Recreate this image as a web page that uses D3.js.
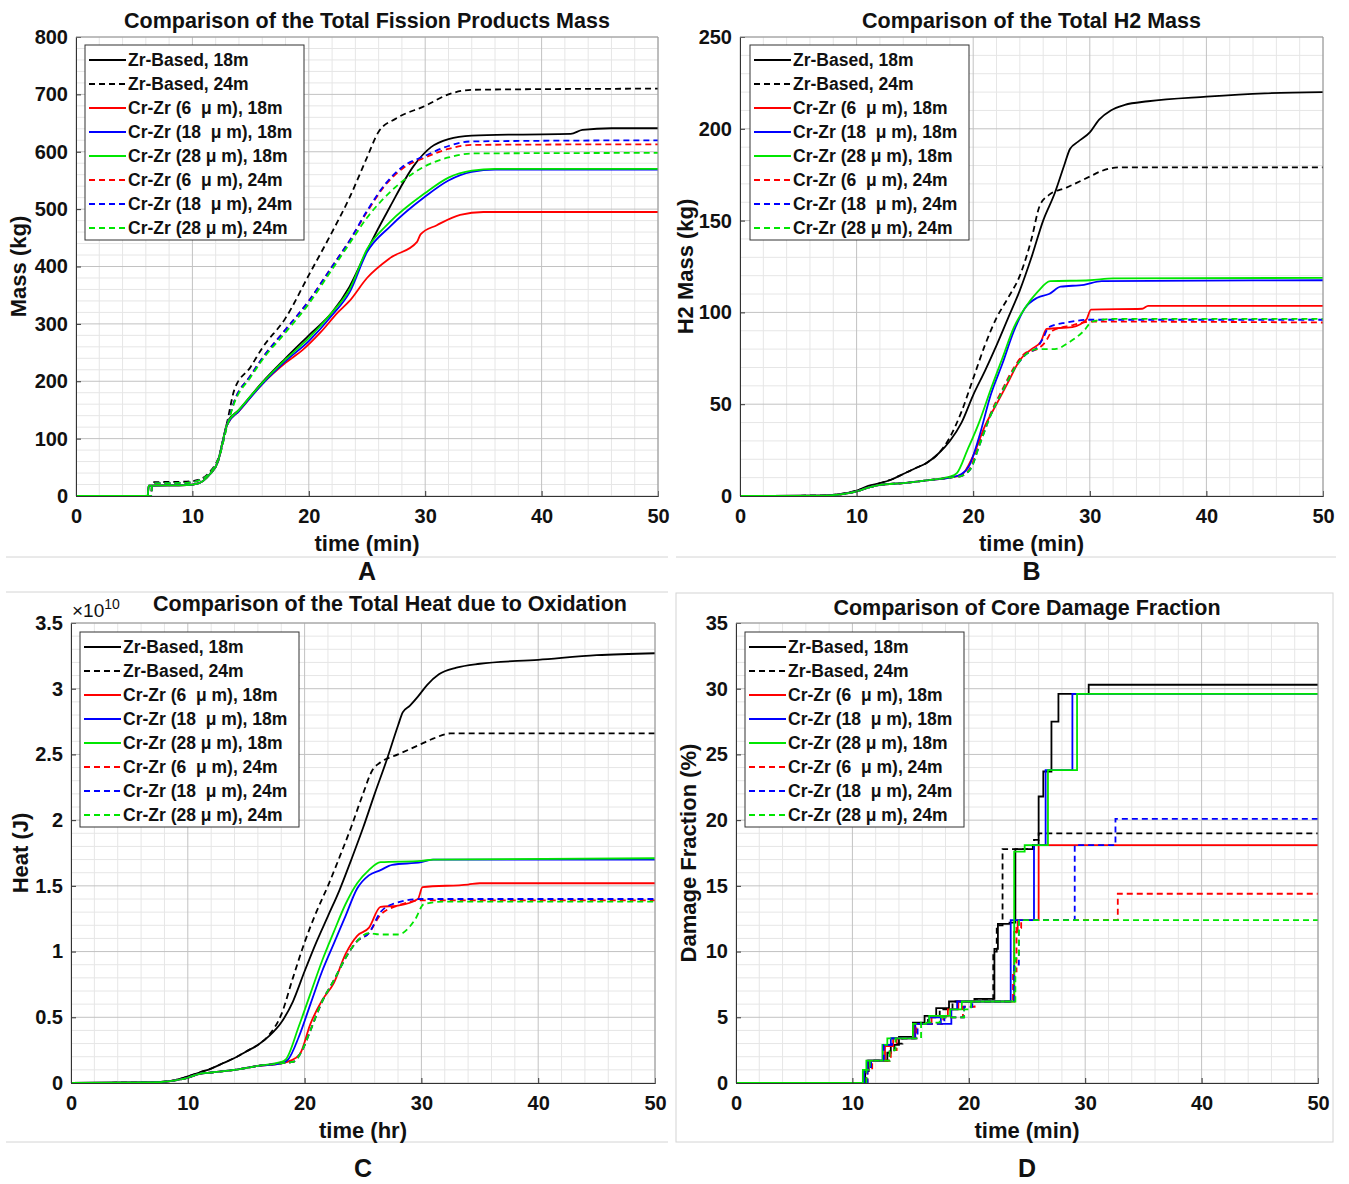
<!DOCTYPE html>
<html>
<head>
<meta charset="utf-8">
<script src="https://cdn.jsdelivr.net/npm/d3@7"></script>
<style>
  body { margin: 0; background: #fff; }
  text { font-family: "Liberation Sans", Arial, sans-serif; font-weight: bold; fill: #111; }
</style>
</head>
<body>
<div id="chart"></div>
<script>
// --- taille de la page ---
const width = 1349;
const height = 1184;

// --- légende commune aux 4 graphes ---
const seriesLabels = [
  "Zr-Based, 18m", "Zr-Based, 24m",
  "Cr-Zr (6  \u03bc m), 18m", "Cr-Zr (18  \u03bc m), 18m", "Cr-Zr (28 \u03bc m), 18m",
  "Cr-Zr (6  \u03bc m), 24m", "Cr-Zr (18  \u03bc m), 24m", "Cr-Zr (28 \u03bc m), 24m"
];
const seriesColors = ["#000000", "#000000", "#ff0000", "#0000ff", "#00e600", "#ff0000", "#0000ff", "#00e600"];
const seriesDashed = [false, true, false, false, false, true, true, true];

const xTicks = [0, 10, 20, 30, 40, 50];

// --- A : masse des produits de fission (kg) ---
const fpZr18 = [[0,0],[6.15,0],[6.25,18],[9.5,19],[10.5,22],[11.5,38],[12.2,60],[12.6,95],[13.0,128],[14,150],[16,198],[18,240],[20,280],[22,320],[23.5,365],[25,428],[27,505],[29,575],[30.5,608],[32,622],[34,628],[38,630],[42.5,631],[43.5,638],[46,641],[50,641]];
const fpZr24 = [[0,0],[6.45,0],[6.55,24],[9.5,25],[10.5,28],[11.5,42],[12.3,70],[13.0,130],[13.6,185],[15,225],[16,258],[18,310],[20,385],[22,460],[23.5,520],[25,590],[26,635],[27.5,658],[30,680],[32,700],[34,708],[50,710]];
const fpCr6_18 = [[0,0],[6.15,0],[6.25,18],[9.5,19],[10.5,22],[11.5,38],[12.2,60],[12.6,95],[13.0,125],[14,148],[16,195],[18,232],[19.5,255],[21,285],[22.5,320],[23.5,340],[25,380],[27,415],[29.3,443],[29.6,456],[31,472],[33,490],[35,495],[50,495]];
const fpCr18_18 = [[0,0],[6.15,0],[6.25,18],[9.5,19],[10.5,22],[11.5,38],[12.2,60],[12.6,95],[13.0,125],[14,148],[16,195],[18,235],[20,270],[22,315],[23.5,355],[25,425],[27,470],[30,522],[32,550],[34,565],[36,569],[50,569]];
const fpCr28_18 = [[0,0],[6.15,0],[6.25,18],[9.5,19],[10.5,22],[11.5,38],[12.2,60],[12.6,95],[13.0,126],[14,150],[16,197],[18,238],[20,275],[22,320],[23.5,360],[25,430],[27,478],[30,528],[32,555],[34,567],[36,570],[50,570]];
const fpCr6_24 = [[0,0],[6.45,0],[6.55,22],[9.5,23],[10.5,27],[11.5,40],[12.3,68],[13.0,125],[13.6,165],[15,210],[16,240],[18,290],[20,340],[22,400],[23.5,445],[25,495],[26.5,540],[28,570],[30,590],[32,605],[34,612],[50,613]];
const fpCr18_24 = [[0,0],[6.45,0],[6.55,22],[9.5,23],[10.5,27],[11.5,40],[12.3,68],[13.0,125],[13.6,165],[15,210],[16,240],[18,290],[20,340],[22,400],[23.5,445],[25,497],[26.5,542],[28,573],[30,593],[32,610],[34,618],[50,620]];
const fpCr28_24 = [[0,0],[6.45,0],[6.55,22],[9.5,23],[10.5,27],[11.5,40],[12.3,68],[13.0,123],[13.6,162],[15,207],[16,237],[18,285],[20,335],[22,395],[23.5,440],[25,485],[26.5,520],[28,548],[30,575],[32,590],[34,597],[50,598]];

// --- B : masse de H2 (kg) ---
const h2Zr18 = [[0,0],[7,0.2],[8.5,1],[10,3],[11,5.5],[12,7],[13,9],[14,12],[15,15],[16,18],[17,23],[18,30],[19,40],[20,55],[21,68],[22,82],[23,97],[24,112],[25,130],[26,150],[27,165],[27.8,180],[28.3,189],[29,193],[30,198],[30.8,205],[31.8,210],[33,213],[35,215],[40,217.5],[45,219.3],[50,220]];
const h2Zr24 = [[0,0],[7,0.2],[8.5,1],[10,3],[11,5],[12,7],[13,9],[14,12],[15,15],[16,18],[17,23],[18,32],[19,46],[20,64],[21,82],[22,97],[23,108],[24,120],[25,140],[25.7,158],[26.5,164],[28,168],[30,174],[31,177],[32.5,179],[50,179]];
const h2Cr6_18 = [[0,0],[7,0.2],[8.5,0.8],[10,2.5],[11,4.5],[12,6],[14,7],[16,8.5],[18,10],[19,11.5],[20,22],[21,38],[22,50],[23,62],[24,74],[25,80],[25.8,84],[26.3,91],[28.5,92],[29.7,96],[30.1,101.5],[34.5,102],[35,103.5],[50,103.5]];
const h2Cr18_18 = [[0,0],[7,0.2],[8.5,0.8],[10,2.5],[11,4.5],[12,6],[14,7],[16,8.5],[18,10],[19,12],[19.7,17],[20.5,32],[21.5,55],[22.5,72],[23.5,90],[24.4,102],[25.5,108],[26.5,110],[27.5,114],[29.5,115],[31,117],[50,117.5]];
const h2Cr28_18 = [[0,0],[7,0.2],[8.5,0.8],[10,2.5],[11,4.5],[12,6],[14,7],[16,8.5],[18,10.5],[18.6,12.5],[19.5,25],[20.5,40],[21.5,58],[22.5,75],[23.5,92],[24.5,103],[25.5,111],[26.6,117],[30,117.5],[32,118.5],[50,118.8]];
const h2Cr6_24 = [[0,0],[7,0.2],[8.5,0.8],[10,2.5],[11,4.5],[12,6],[14,7],[16,8.5],[18,10],[19,11],[19.8,16],[20.5,28],[21.5,45],[22.5,58],[23.5,70],[24.5,78],[25.5,80],[26.2,84],[26.8,90],[28.5,93],[30,95],[50,94.5]];
const h2Cr18_24 = [[0,0],[7,0.2],[8.5,0.8],[10,2.5],[11,4.5],[12,6],[14,7],[16,8.5],[18,10],[19,11],[19.8,15],[20.5,27],[21.5,44],[22.5,57],[23.5,69],[24.5,77],[25.5,81],[26,86],[26.5,92],[28,94.5],[30,96],[50,96]];
const h2Cr28_24 = [[0,0],[7,0.2],[8.5,0.8],[10,2.5],[11,4.5],[12,6],[14,7],[16,8.5],[18,10],[19,11],[19.8,15],[20.5,27],[21.5,44],[22.5,57],[23.5,69],[24.5,77],[25.5,80],[27,80],[28.3,84],[29.5,90],[30.2,95],[32,96.5],[50,96.5]];

// --- C : chaleur d'oxydation (x 1e10 J) ---
const htZr18 = [[0,0],[7,0.005],[8.5,0.015],[10,0.05],[11,0.08],[12,0.11],[13,0.15],[14,0.19],[15,0.24],[16,0.29],[17,0.36],[18,0.46],[19,0.62],[20,0.85],[21,1.07],[22,1.27],[23,1.47],[24,1.70],[25,1.94],[26,2.2],[27,2.45],[28,2.72],[28.4,2.82],[29,2.87],[29.7,2.94],[30.5,3.03],[31.5,3.11],[33,3.16],[35,3.19],[40,3.22],[45,3.255],[50,3.27]];
const htZr24 = [[0,0],[7,0.005],[8.5,0.015],[10,0.05],[11,0.08],[12,0.11],[13,0.15],[14,0.19],[15,0.24],[16,0.29],[17,0.37],[18,0.52],[19,0.8],[20,1.07],[21,1.3],[22,1.5],[23,1.72],[24,1.95],[25,2.2],[25.8,2.38],[26.5,2.44],[28,2.5],[30,2.58],[31,2.62],[32.5,2.66],[50,2.66]];
const htCr6_18 = [[0,0],[7,0.005],[8.5,0.015],[10,0.04],[11,0.07],[12,0.08],[14,0.1],[16,0.13],[18,0.15],[18.8,0.17],[19.6,0.22],[20.5,0.45],[21.5,0.63],[22.5,0.76],[23.5,0.98],[24.5,1.12],[25.5,1.18],[26.5,1.34],[28,1.35],[29.7,1.40],[30.1,1.49],[34,1.51],[35,1.52],[50,1.52]];
const htCr18_18 = [[0,0],[7,0.005],[8.5,0.015],[10,0.04],[11,0.07],[12,0.08],[14,0.1],[16,0.13],[18,0.15],[18.6,0.18],[19.5,0.35],[20.5,0.6],[21.5,0.85],[22.5,1.06],[23.5,1.27],[24.5,1.48],[25.5,1.58],[26.5,1.62],[27.5,1.66],[30,1.68],[31,1.70],[50,1.70]];
const htCr28_18 = [[0,0],[7,0.005],[8.5,0.015],[10,0.04],[11,0.07],[12,0.08],[14,0.1],[16,0.13],[18,0.16],[18.4,0.18],[19.5,0.43],[20.5,0.68],[21.5,0.93],[22.5,1.15],[23.5,1.36],[24.5,1.52],[25.5,1.62],[26.5,1.68],[30,1.69],[31,1.70],[50,1.71]];
const htCr6_24 = [[0,0],[7,0.005],[8.5,0.015],[10,0.04],[11,0.07],[12,0.08],[14,0.1],[16,0.13],[18,0.15],[19,0.16],[19.8,0.25],[20.5,0.4],[21.5,0.62],[22.5,0.78],[23.5,0.95],[24.5,1.08],[25.5,1.14],[26.5,1.28],[28,1.35],[30,1.39],[50,1.39]];
const htCr18_24 = [[0,0],[7,0.005],[8.5,0.015],[10,0.04],[11,0.07],[12,0.08],[14,0.1],[16,0.13],[18,0.15],[19,0.16],[19.8,0.25],[20.5,0.4],[21.5,0.62],[22.5,0.78],[23.5,0.95],[24.5,1.08],[25.5,1.14],[26.5,1.30],[27.5,1.36],[30,1.40],[50,1.40]];
const htCr28_24 = [[0,0],[7,0.005],[8.5,0.015],[10,0.04],[11,0.07],[12,0.08],[14,0.1],[16,0.13],[18,0.15],[19,0.16],[19.8,0.25],[20.5,0.4],[21.5,0.62],[22.5,0.78],[23.5,0.95],[24.5,1.08],[25.5,1.14],[26.5,1.13],[28,1.13],[29.5,1.25],[30.2,1.36],[32,1.38],[50,1.38]];

// --- D : fraction de cœur endommagé (%), courbes en escalier ---
const cdZr18 = [[0,0],[11.1,0.9],[11.4,1.7],[13.0,2.3],[13.3,2.9],[14.0,3.5],[15.2,4.6],[16.2,5.1],[17.2,5.7],[18.3,6.2],[20.5,6.4],[22.2,10.2],[22.5,12.1],[23.5,12.2],[24.0,17.8],[25.5,18.1],[26.0,21.8],[26.4,23.7],[27.1,27.5],[27.7,29.6],[30.3,30.3],[50,30.3]];
const cdZr24 = [[0,0],[11.2,1.0],[11.6,1.7],[13.2,2.4],[13.6,3.0],[14.3,3.5],[15.4,4.5],[16.5,5.0],[17.5,5.6],[18.6,6.2],[20.5,6.4],[22.1,10.0],[22.4,12.0],[22.9,17.8],[25.6,18.5],[26.0,19.0],[50,19.0]];
const cdCr6_18 = [[0,0],[10.9,1.0],[11.3,1.7],[12.8,2.8],[13.5,3.4],[15.3,4.5],[16.8,5.1],[18.2,5.6],[19.1,6.2],[23.9,11.5],[24.2,12.4],[26.0,18.1],[50,18.1]];
const cdCr18_18 = [[0,0],[11.0,1.0],[11.3,1.7],[12.6,2.9],[13.3,3.4],[15.4,4.5],[16.6,5.0],[17.6,4.5],[18.5,5.6],[19.0,6.2],[23.6,12.4],[25.6,18.1],[26.6,23.8],[28.9,29.6],[50,29.6]];
const cdCr28_18 = [[0,0],[10.9,1.0],[11.2,1.7],[12.6,2.9],[13.0,3.4],[15.2,4.5],[16.6,5.1],[18.4,5.6],[19.4,6.2],[23.9,17.6],[24.8,18.1],[26.8,23.8],[29.3,29.6],[50,29.6]];
const cdCr6_24 = [[0,0],[11.3,1.0],[11.7,1.7],[13.3,2.5],[13.8,3.4],[15.5,4.5],[17.8,5.0],[19.5,5.8],[20.5,6.2],[23.8,8.5],[24.1,11.8],[24.5,12.4],[32.8,14.4],[50,14.4]];
const cdCr18_24 = [[0,0],[11.3,1.0],[11.6,1.7],[12.7,2.9],[13.4,3.4],[15.6,4.5],[17.9,5.0],[19.6,5.8],[20.3,6.2],[23.9,9.0],[24.3,12.4],[29.1,18.1],[32.6,20.1],[50,20.1]];
const cdCr28_24 = [[0,0],[11.2,1.0],[11.5,1.7],[13.2,2.5],[13.7,3.4],[15.9,4.6],[17.5,5.0],[19.6,5.6],[20.2,6.2],[24.0,9.5],[24.3,12.4],[50,12.4]];

// --- configuration des 4 graphes ---
const panels = [
  { letter: "A", left: 76, right: 658, top: 37, bottom: 496, title: "Comparison of the Total Fission Products Mass",
    yLabel: "Mass (kg)", xLabel: "time (min)", yMax: 800, yStep: 100, yMinor: 20, step: false,
    series: [fpZr18, fpZr24, fpCr6_18, fpCr18_18, fpCr28_18, fpCr6_24, fpCr18_24, fpCr28_24],
    legend: [85, 45], titleDy: 9, titleDx: 0, yLabDx: 50, letterDy: 84 },
  { letter: "B", left: 740, right: 1323, top: 37, bottom: 496, title: "Comparison of the Total H2 Mass",
    yLabel: "H2 Mass (kg)", xLabel: "time (min)", yMax: 250, yStep: 50, yMinor: 10, step: false,
    series: [h2Zr18, h2Zr24, h2Cr6_18, h2Cr18_18, h2Cr28_18, h2Cr6_24, h2Cr18_24, h2Cr28_24],
    legend: [750, 45], titleDy: 9, titleDx: 0, yLabDx: 47, letterDy: 84 },
  { letter: "C", left: 71, right: 655, top: 623, bottom: 1083, title: "Comparison of the Total Heat due to Oxidation",
    yLabel: "Heat (J)", xLabel: "time (hr)", yMax: 3.5, yStep: 0.5, yMinor: 0.1, step: false, exponent: true,
    series: [htZr18, htZr24, htCr6_18, htCr18_18, htCr28_18, htCr6_24, htCr18_24, htCr28_24],
    legend: [80, 632], titleDy: 12, titleDx: 27, yLabDx: 43, letterDy: 94 },
  { letter: "D", left: 736, right: 1318, top: 623, bottom: 1083, title: "Comparison of Core Damage Fraction",
    yLabel: "Damage Fraction (%)", xLabel: "time (min)", yMax: 35, yStep: 5, yMinor: 1, step: true,
    series: [cdZr18, cdZr24, cdCr6_18, cdCr18_18, cdCr28_18, cdCr6_24, cdCr18_24, cdCr28_24],
    legend: [745, 632], titleDy: 8, titleDx: 0, yLabDx: 40, letterDy: 94 }
];

const svg = d3.select("#chart").append("svg")
  .attr("width", width)
  .attr("height", height);

// petits cadres gris entre les figures
const frame = svg.append("g").attr("stroke", "#d4d4d4").attr("fill", "none");
frame.append("line").attr("x1", 6).attr("x2", 668).attr("y1", 557).attr("y2", 557);
frame.append("line").attr("x1", 676).attr("x2", 1336).attr("y1", 557).attr("y2", 557);
frame.append("line").attr("x1", 6).attr("x2", 668).attr("y1", 592).attr("y2", 592);
frame.append("line").attr("x1", 6).attr("x2", 668).attr("y1", 1142).attr("y2", 1142);
frame.append("rect").attr("x", 676).attr("y", 593).attr("width", 657).attr("height", 549);

panels.forEach(drawPanel);

function drawPanel(p) {
  const x = d3.scaleLinear().domain([0, 50]).range([p.left, p.right]);
  const y = d3.scaleLinear().domain([0, p.yMax]).range([p.bottom, p.top]);
  const g = svg.append("g");

  // grille mineure puis majeure
  const xMinor = d3.range(0, 50.001, 2).filter(v => v % 10 !== 0);
  const yMinor = d3.range(0, p.yMax + 1e-9, p.yMinor).filter(v => Math.abs(v / p.yStep - Math.round(v / p.yStep)) > 1e-6);
  const yMajor = d3.range(0, p.yMax + 1e-9, p.yStep);

  g.selectAll(".xmin").data(xMinor).join("line")
    .attr("x1", d => x(d)).attr("x2", d => x(d)).attr("y1", p.top).attr("y2", p.bottom)
    .attr("stroke", "#e6e6e6");
  g.selectAll(".ymin").data(yMinor).join("line")
    .attr("y1", d => y(d)).attr("y2", d => y(d)).attr("x1", p.left).attr("x2", p.right)
    .attr("stroke", "#e6e6e6");
  g.selectAll(".xmaj").data(xTicks).join("line")
    .attr("x1", d => x(d)).attr("x2", d => x(d)).attr("y1", p.top).attr("y2", p.bottom)
    .attr("stroke", "#c2c2c2");
  g.selectAll(".ymaj").data(yMajor).join("line")
    .attr("y1", d => y(d)).attr("y2", d => y(d)).attr("x1", p.left).attr("x2", p.right)
    .attr("stroke", "#c2c2c2");

  // courbes
  const line = d3.line()
    .x(d => x(d[0])).y(d => y(d[1]))
    .curve(p.step ? d3.curveStepAfter : d3.curveMonotoneX);
  p.series.forEach((s, i) => {
    g.append("path")
      .datum(s)
      .attr("d", line)
      .attr("fill", "none")
      .attr("stroke", seriesColors[i])
      .attr("stroke-width", 1.8)
      .attr("stroke-dasharray", seriesDashed[i] ? "6,4" : null);
  });

  // axes (ticks vers l'intérieur comme MATLAB)
  const fmt = d3.format("~g");
  const xAxis = d3.axisBottom(x).tickValues(xTicks).tickSize(-5).tickPadding(13).tickFormat(fmt);
  const yAxis = d3.axisLeft(y).tickValues(yMajor).tickSize(-5).tickPadding(8).tickFormat(fmt);
  const gx = g.append("g").attr("transform", `translate(0,${p.bottom})`).call(xAxis);
  const gy = g.append("g").attr("transform", `translate(${p.left},0)`).call(yAxis);
  [gx, gy].forEach(a => {
    a.select(".domain").attr("stroke", "#333");
    a.selectAll(".tick line").attr("stroke", "#333");
    a.selectAll("text").style("font-size", "20px").style("font-weight", "bold")
      .style("font-family", "'Liberation Sans', Arial, sans-serif").attr("fill", "#111");
  });
  g.append("line").attr("x1", p.left).attr("x2", p.right).attr("y1", p.top).attr("y2", p.top).attr("stroke", "#9a9a9a");
  g.append("line").attr("x1", p.right).attr("x2", p.right).attr("y1", p.top).attr("y2", p.bottom).attr("stroke", "#9a9a9a");

  // titres et libellés
  const cx = (p.left + p.right) / 2;
  g.append("text").attr("x", cx + p.titleDx).attr("y", p.top - p.titleDy)
    .attr("text-anchor", "middle").style("font-size", "21.5px").text(p.title);
  g.append("text").attr("x", cx).attr("y", p.bottom + 55)
    .attr("text-anchor", "middle").style("font-size", "22px").text(p.xLabel);
  g.append("text")
    .attr("transform", `translate(${p.left - p.yLabDx},${(p.top + p.bottom) / 2}) rotate(-90)`)
    .attr("text-anchor", "middle").style("font-size", "22px").text(p.yLabel);
  g.append("text").attr("x", cx).attr("y", p.bottom + p.letterDy)
    .attr("text-anchor", "middle").style("font-size", "25px").text(p.letter);

  if (p.exponent) {
    const e = g.append("text").attr("x", p.left + 1).attr("y", p.top - 6)
      .style("font-size", "19px").style("font-weight", "normal");
    e.append("tspan").text("\u00d710");
    e.append("tspan").attr("dy", -8).style("font-size", "14px").text("10");
  }

  // légende
  const [lx, ly] = p.legend;
  const lg = g.append("g").attr("transform", `translate(${lx},${ly})`);
  lg.append("rect").attr("width", 219).attr("height", 195)
    .attr("fill", "#fff").attr("stroke", "#333").attr("stroke-width", 1);
  seriesLabels.forEach((lab, i) => {
    const yy = 15 + i * 24;
    lg.append("line").attr("x1", 4).attr("x2", 41).attr("y1", yy).attr("y2", yy)
      .attr("stroke", seriesColors[i]).attr("stroke-width", 1.8)
      .attr("stroke-dasharray", seriesDashed[i] ? "6,4" : null);
    lg.append("text").attr("x", 43).attr("y", yy + 6)
      .style("font-size", "17.5px").style("white-space", "pre").text(lab);
  });
}
</script>
</body>
</html>
